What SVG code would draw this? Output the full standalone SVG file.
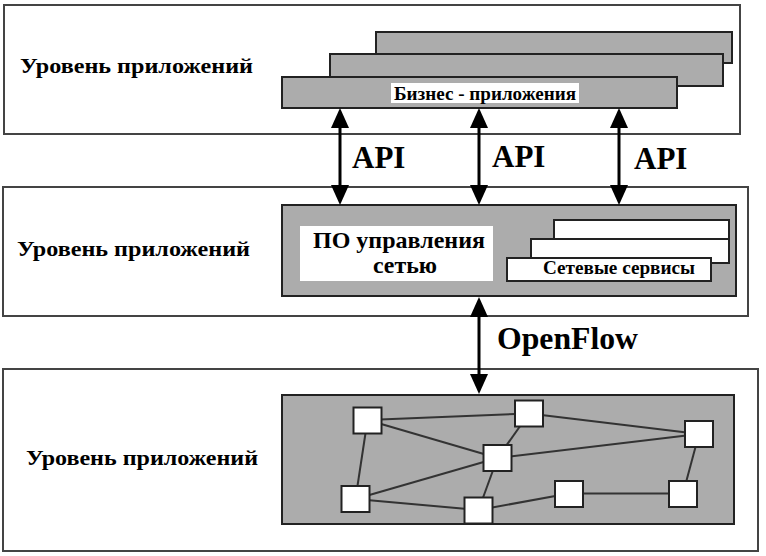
<svg xmlns="http://www.w3.org/2000/svg" width="766" height="556" viewBox="0 0 766 556">
<style>
.outer{fill:#fff;stroke:#444;stroke-width:2}
.grey{fill:#acacac;stroke:#222;stroke-width:2}
.wbox{fill:#fff;stroke:#222;stroke-width:2}
.lbl{fill:#fff;stroke:none}
.t{font-family:"Liberation Serif","Times New Roman",serif;font-weight:bold;fill:#000}
.lvl{font-size:22px}
.big{font-size:31px}
.edge{stroke:#333;stroke-width:2}
.arr{stroke:#000;stroke-width:3;fill:none;marker-start:url(#ah);marker-end:url(#ah)}
</style>
<defs>
<marker id="ah" markerUnits="userSpaceOnUse" markerWidth="20" markerHeight="18" refX="2" refY="9" orient="auto-start-reverse" viewBox="0 0 20 18">
<path d="M0,0 L20,9 L0,18 z" fill="#000"/>
</marker>
</defs>
<rect width="766" height="556" fill="#fff"/>

<g id="layer-top">
<rect class="outer" x="4" y="5" width="736" height="129"/>
<text class="t lvl" x="20" y="73" textLength="233" lengthAdjust="spacingAndGlyphs">Уровень приложений</text>
</g>
<g id="biz-apps">
<rect class="grey" x="376" y="32" width="356" height="31"/>
<rect class="grey" x="330" y="54" width="393" height="32"/>
<rect class="grey" x="282" y="77" width="395" height="31"/>
<rect class="lbl" x="391" y="83" width="188" height="20"/>
<text class="t" x="394" y="100" font-size="18" textLength="182" lengthAdjust="spacingAndGlyphs">Бизнес - приложения</text>
</g>

<g id="layer-mid">
<rect class="outer" x="3" y="187" width="745" height="129"/>
<text class="t lvl" x="17" y="256" textLength="233" lengthAdjust="spacingAndGlyphs">Уровень приложений</text>
</g>
<g id="control">
<rect class="grey" x="282" y="205" width="454" height="91"/>
<rect class="lbl" x="300" y="226" width="193" height="55"/>
<text class="t" x="313" y="248" font-size="23" textLength="172" lengthAdjust="spacingAndGlyphs">ПО управления</text>
<text class="t" x="373" y="273" font-size="23" textLength="64" lengthAdjust="spacingAndGlyphs">сетью</text>
</g>
<g id="net-services">
<rect class="wbox" x="554" y="220" width="175" height="43"/>
<rect class="wbox" x="531" y="239" width="198" height="24"/>
<rect class="wbox" x="507" y="258" width="204" height="23"/>
<text class="t" x="543" y="274" font-size="18" textLength="152" lengthAdjust="spacingAndGlyphs">Сетевые сервисы</text>
</g>

<g id="layer-bottom">
<rect class="outer" x="3" y="369" width="755" height="182"/>
<text class="t lvl" x="26" y="465" textLength="232" lengthAdjust="spacingAndGlyphs">Уровень приложений</text>
</g>
<g id="network">
<rect class="grey" x="282" y="395" width="452" height="129"/>
<g id="net-edges">
<line class="edge" x1="367.5" y1="420" x2="529" y2="413.5"/>
<line class="edge" x1="367.5" y1="420" x2="497.5" y2="458"/>
<line class="edge" x1="367.5" y1="420" x2="355.5" y2="499"/>
<line class="edge" x1="529" y1="413.5" x2="497.5" y2="458"/>
<line class="edge" x1="529" y1="413.5" x2="699" y2="434"/>
<line class="edge" x1="497.5" y1="458" x2="699" y2="434"/>
<line class="edge" x1="497.5" y1="458" x2="355.5" y2="499"/>
<line class="edge" x1="497.5" y1="458" x2="478.5" y2="510"/>
<line class="edge" x1="355.5" y1="499" x2="478.5" y2="510"/>
<line class="edge" x1="478.5" y1="510" x2="569" y2="493.5"/>
<line class="edge" x1="569" y1="493.5" x2="683" y2="493.5"/>
<line class="edge" x1="699" y1="434" x2="683" y2="493.5"/>
</g>
<g id="n1"><rect class="wbox" x="353.5" y="407.5" width="28" height="26"/></g>
<g id="n2"><rect class="wbox" x="515" y="400.5" width="28" height="26"/></g>
<g id="n3"><rect class="wbox" x="685" y="421" width="28" height="26"/></g>
<g id="n4"><rect class="wbox" x="483.5" y="445" width="28" height="26"/></g>
<g id="n5"><rect class="wbox" x="341.5" y="486" width="28" height="26"/></g>
<g id="n6"><rect class="wbox" x="464.5" y="497.5" width="28" height="26"/></g>
<g id="n7"><rect class="wbox" x="555" y="481" width="28" height="26"/></g>
<g id="n8"><rect class="wbox" x="669" y="481" width="28" height="26"/></g>
</g>

<g id="connectors">
<line class="arr" x1="340" y1="126" x2="340" y2="187"/>
<line class="arr" x1="479" y1="126" x2="479" y2="187"/>
<line class="arr" x1="619" y1="126" x2="619" y2="187"/>
<line class="arr" x1="479" y1="315" x2="479" y2="376"/>
<text class="t big" x="352" y="168">API</text>
<text class="t big" x="492" y="167">API</text>
<text class="t big" x="634" y="169">API</text>
<text class="t" x="497" y="349" font-size="32" textLength="141" lengthAdjust="spacingAndGlyphs">OpenFlow</text>
</g>
</svg>
